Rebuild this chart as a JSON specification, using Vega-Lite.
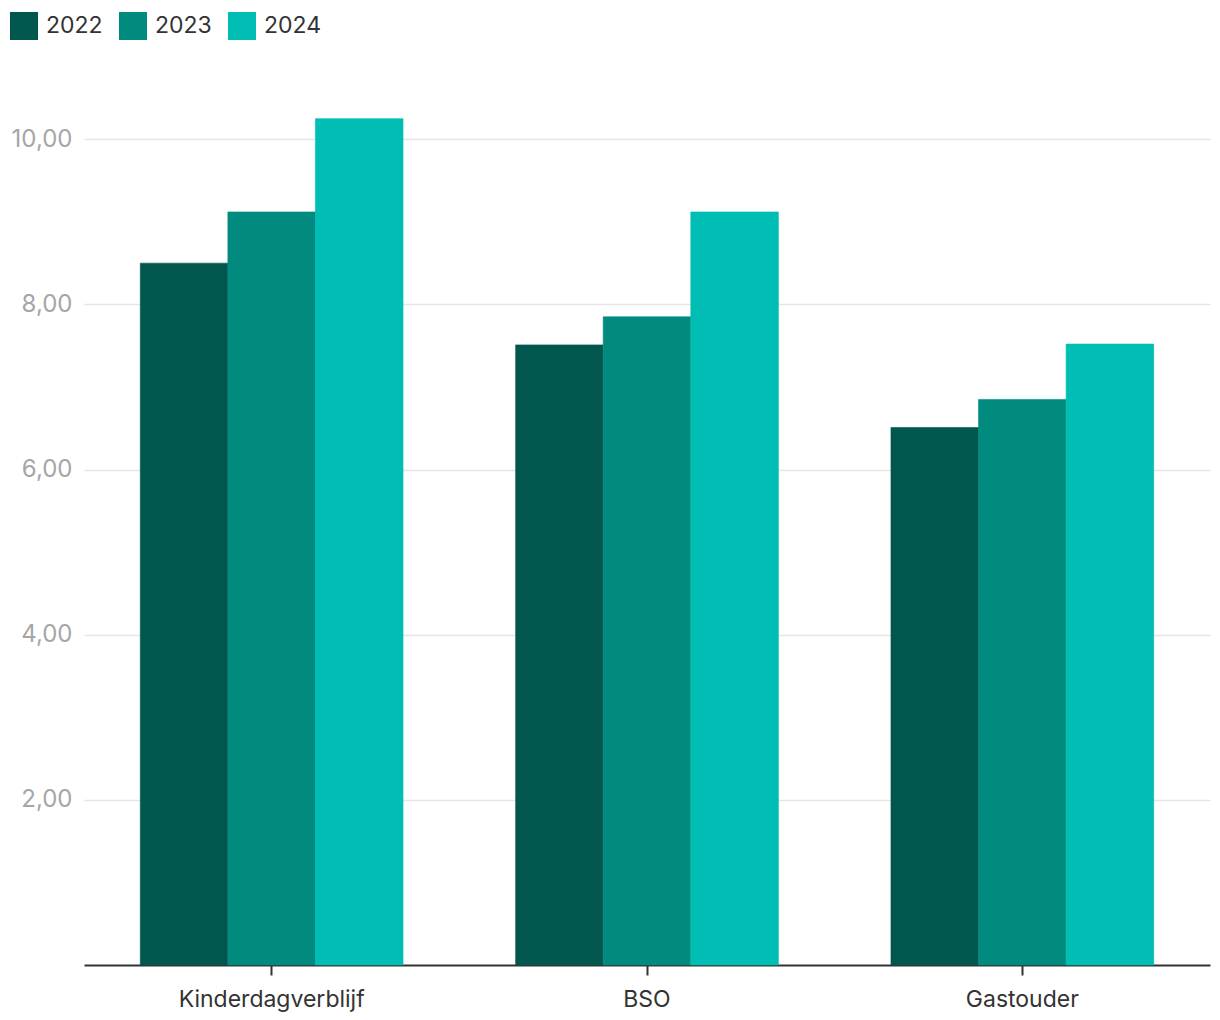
{
  "$schema": "https://vega.github.io/schema/vega-lite/v6.json",
  "width": 1126,
  "height": 867,
  "autosize": {"type": "none"},
  "padding": {"left": 84, "top": 98, "right": 10, "bottom": 55},
  "background": "white",
  "data": {
    "values": [
      {"soort": "Kinderdagverblijf", "jaar": "2022", "tarief": 8.50},
      {"soort": "Kinderdagverblijf", "jaar": "2023", "tarief": 9.12},
      {"soort": "Kinderdagverblijf", "jaar": "2024", "tarief": 10.25},
      {"soort": "BSO", "jaar": "2022", "tarief": 7.51},
      {"soort": "BSO", "jaar": "2023", "tarief": 7.85},
      {"soort": "BSO", "jaar": "2024", "tarief": 9.12},
      {"soort": "Gastouder", "jaar": "2022", "tarief": 6.51},
      {"soort": "Gastouder", "jaar": "2023", "tarief": 6.85},
      {"soort": "Gastouder", "jaar": "2024", "tarief": 7.52}
    ]
  },
  "mark": {"type": "bar", "strokeWidth": 0.6},
  "encoding": {
    "x": {
      "field": "soort",
      "type": "nominal",
      "sort": ["Kinderdagverblijf", "BSO", "Gastouder"],
      "scale": {"paddingInner": 0.3, "paddingOuter": 0.15},
      "axis": {
        "title": null,
        "labelAngle": 0,
        "labelFontSize": 23,
        "labelLimit": 0,
        "labelColor": "#333333",
        "labelPadding": 13,
        "domainColor": "#333333",
        "domainWidth": 2,
        "tickColor": "#333333",
        "tickWidth": 2,
        "tickSize": 10
      }
    },
    "xOffset": {"field": "jaar", "type": "nominal", "scale": {"paddingInner": 0, "paddingOuter": 0}},
    "y": {
      "field": "tarief",
      "type": "quantitative",
      "scale": {"domain": [0, 10.5], "nice": false},
      "axis": {
        "title": null,
        "values": [2, 4, 6, 8, 10],
        "format": ",.2f",
        "labelFontSize": 24,
        "labelColor": "#a6a6a6",
        "labelPadding": 12,
        "domain": false,
        "ticks": false,
        "gridColor": "#e6e6e6",
        "gridWidth": 1.5
      }
    },
    "color": {
      "field": "jaar",
      "type": "nominal",
      "scale": {"domain": ["2022", "2023", "2024"], "range": ["#01574e", "#018a7e", "#00beb3"]},
      "legend": {
        "title": null,
        "orient": "none",
        "legendX": -74,
        "legendY": -86,
        "direction": "horizontal",
        "columns": 3,
        "symbolType": "square",
        "symbolSize": 784,
        "symbolStrokeWidth": 0,
        "symbolOpacity": 1,
        "labelFontSize": 23,
        "labelColor": "#333333",
        "labelOffset": 8,
        "columnPadding": 16
      }
    },
    "stroke": {
      "field": "jaar",
      "type": "nominal",
      "scale": {"domain": ["2022", "2023", "2024"], "range": ["#01574e", "#018a7e", "#00beb3"]},
      "legend": null
    }
  },
  "config": {
    "font": "Inter",
    "view": {"stroke": null},
    "locale": {"number": {"decimal": ",", "thousands": ".", "grouping": [3], "currency": ["€ ", ""]}}
  }
}
